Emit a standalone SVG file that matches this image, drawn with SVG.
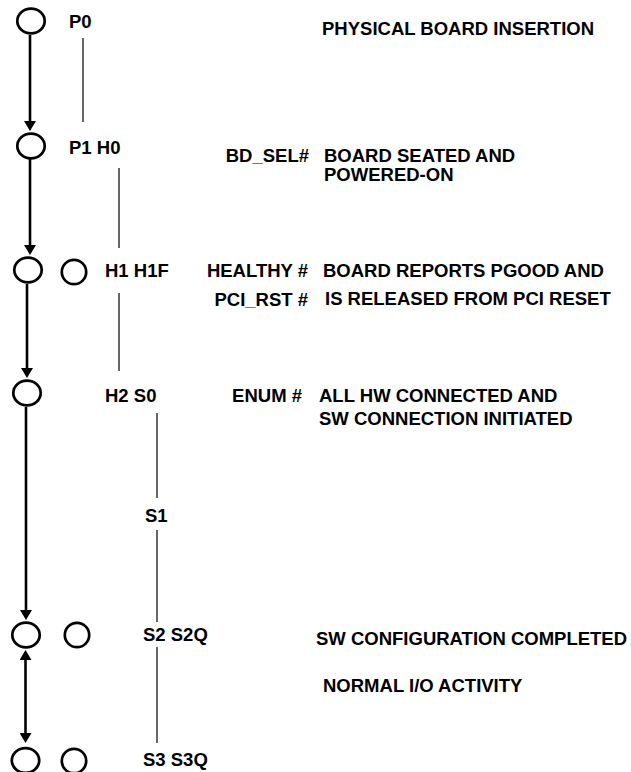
<svg xmlns="http://www.w3.org/2000/svg" width="631" height="772" viewBox="0 0 631 772">
<style>
text{font-family:"Liberation Sans",Arial,sans-serif;font-weight:bold;font-size:18.5px;fill:#000}
.st{fill:none;stroke:#000;stroke-width:2.7}
.ar{fill:none;stroke:#000;stroke-width:2.6}
.tl{fill:none;stroke:#000;stroke-width:1.2}
.e{text-anchor:end}
</style>
<defs>
<marker id="ah" markerUnits="userSpaceOnUse" markerWidth="10" markerHeight="12" refX="0" refY="6" orient="auto-start-reverse" viewBox="0 0 10 12">
<path d="M0,0 L10,6 L0,12 z" fill="#000"/>
</marker>
</defs>
<rect width="631" height="772" fill="#fff"/>
<g id="connectors">
<line class="ar" x1="30" y1="35" x2="30" y2="121" marker-end="url(#ah)"/>
<line class="ar" x1="30" y1="159" x2="30" y2="245" marker-end="url(#ah)"/>
<line class="ar" x1="27" y1="284" x2="27" y2="368" marker-end="url(#ah)"/>
<line class="ar" x1="26" y1="407" x2="26" y2="610" marker-end="url(#ah)"/>
<line class="ar" x1="25.5" y1="660" x2="25.5" y2="733" marker-start="url(#ah)" marker-end="url(#ah)"/>
<line class="tl" x1="83" y1="38" x2="83" y2="122"/>
<line class="tl" x1="119" y1="168" x2="119" y2="248"/>
<line class="tl" x1="119" y1="293" x2="119" y2="371"/>
<line class="tl" x1="157" y1="413" x2="157" y2="498"/>
<line class="tl" x1="157" y1="530" x2="157" y2="622"/>
<line class="tl" x1="157" y1="647" x2="157" y2="743"/>
</g>
<g id="p0"><ellipse class="st" cx="31" cy="21" rx="13.7" ry="12.4"/><text x="69" y="28">P0</text></g>
<g id="p1"><ellipse class="st" cx="31" cy="146" rx="13.7" ry="12.4"/><text x="69" y="154">P1 H0</text></g>
<g id="h1"><ellipse class="st" cx="28" cy="270" rx="13.7" ry="12.4"/><text x="105" y="277">H1 H1F</text></g>
<g id="h1f"><circle class="st" cx="74" cy="272" r="12.2"/></g>
<g id="h2"><ellipse class="st" cx="27" cy="393" rx="13.7" ry="12.4"/><text x="105" y="402">H2 S0</text></g>
<g id="s1"><text x="145" y="522">S1</text></g>
<g id="s2"><ellipse class="st" cx="26" cy="635" rx="13.7" ry="12.4"/><text x="143" y="641">S2 S2Q</text></g>
<g id="s2q"><circle class="st" cx="77" cy="635" r="12.2"/></g>
<g id="s3"><ellipse class="st" cx="25.5" cy="760.5" rx="13.7" ry="12.4"/><text x="143" y="766">S3 S3Q</text></g>
<g id="s3q"><circle class="st" cx="74" cy="761" r="12.2"/></g>
<g id="labels">
<text x="322" y="35">PHYSICAL BOARD INSERTION</text>
<text class="e" x="309" y="162">BD_SEL#</text>
<text x="324" y="162">BOARD SEATED AND</text>
<text x="324" y="181">POWERED-ON</text>
<text class="e" x="308" y="277">HEALTHY #</text>
<text x="323" y="277">BOARD REPORTS PGOOD AND</text>
<text class="e" x="308" y="306">PCI_RST #</text>
<text x="325" y="305">IS RELEASED FROM PCI RESET</text>
<text class="e" x="302" y="402">ENUM #</text>
<text x="319" y="402">ALL HW CONNECTED AND</text>
<text x="319" y="425">SW CONNECTION INITIATED</text>
<text x="316" y="645">SW CONFIGURATION COMPLETED</text>
<text x="323" y="692">NORMAL I/O ACTIVITY</text>
</g>
</svg>
